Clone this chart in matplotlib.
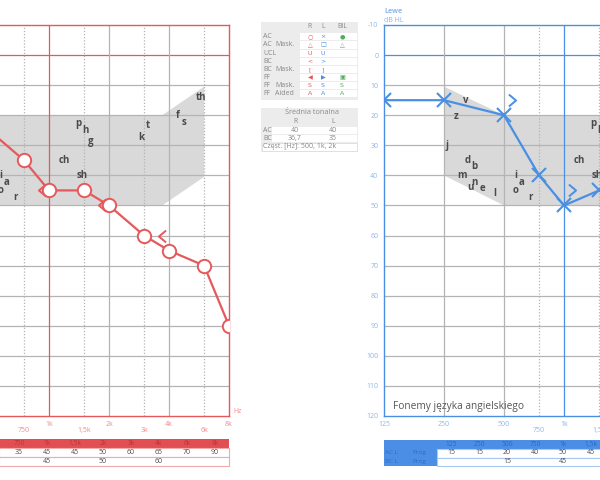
import matplotlib
matplotlib.use("Agg")
import matplotlib.pyplot as plt
from matplotlib.path import Path
from matplotlib.patches import Polygon, Rectangle
from matplotlib.transforms import offset_copy

plt.rcParams['font.family'] = ['Open Sans', 'DejaVu Sans']
plt.rcParams['axes.unicode_minus'] = False

RED = '#e5595c'
RED_LT = '#ee8f8f'
RED_HDR = '#e24f52'
BLUE = '#4a8fe2'
BLUE_LT = '#8db6ee'
BLUE_HDR = '#4a8ee6'
GREEN = '#4cae5a'
GRID = '#b4b4b4'
TXT = '#4a4a4a'

# ---- data ----
# right ear (red chart)
freqs_r = [500, 750, 1000, 1500, 2000, 3000, 4000, 6000, 8000]
ac_r = [25, 35, 45, 45, 50, 60, 65, 70, 90]
bc_r_freqs = [500, 1000, 2000, 4000]
bc_r = [15, 45, 50, 60]

# left ear (blue chart)
freqs_l = [125, 250, 500, 750, 1000, 1500, 2000]
ac_l = [15, 15, 20, 40, 50, 45, 50]
bc_l_freqs = [500, 1000, 2000]
bc_l = [15, 45, 45]

# speech banana
banana_f = [250, 500, 3700, 6000, 6000, 3700, 500, 250]
banana_db = [10.5, 20, 20, 10.5, 40.5, 50, 50, 40]

phonemes = ['th', 'f', 's', 'p', 'h', 'g', 't', 'k', 'ch', 'sh', 'i', 'a', 'o', 'r',
            'v', 'z', 'j', 'd', 'b', 'm', 'n', 'u', 'e', 'l']
phon_f = [5800, 4420, 4740, 1410, 1520, 1620, 3140, 2920, 1190, 1460, 575, 615, 570, 680,
          322, 287, 258, 330, 354, 307, 354, 341, 392, 451]
phon_db = [14, 20, 22.5, 22.8, 25.2, 28.6, 23.4, 27.3, 35, 40, 40, 42.4, 45.1, 47.3,
           15.2, 20.3, 30, 35, 37, 40.2, 42.2, 44.1, 44.3, 45.9]

db_ticks = list(range(-10, 121, 10))
octave_f = [125, 250, 500, 1000, 2000, 4000, 8000]
octave_lbl = ['125', '250', '500', '1k', '2k', '4k', '8k']
inter_f = [750, 1500, 3000, 6000]
inter_lbl = ['750', '1,5k', '3k', '6k']

# table columns
tab_r_cols = [750, 1000, 1500, 2000, 3000, 4000, 6000, 8000]
tab_l_cols = [125, 250, 500, 750, 1000, 1500]


def flabel(f):
    if f < 1000:
        return str(f)
    k = f / 1000
    return (str(int(k)) if k == int(k) else str(k).replace('.', ',')) + 'k'


def chevron(direction):
    s = 1 if direction == '<' else -1
    return Path([(0.3 * s, 0.5), (-0.3 * s, 0), (0.3 * s, -0.5)],
                [Path.MOVETO, Path.LINETO, Path.LINETO])


fig = plt.figure(figsize=(6, 4.8), dpi=100)
W, H = 600, 480


def make_audiogram(left_px, color, lblcolor):
    ax = fig.add_axes([left_px / W, 64 / H, 360 / W, 391 / H])
    ax.set_xscale('log', base=2)
    ax.set_xlim(125, 8000)
    ax.set_ylim(120, -10)
    ax.set_xticks([])
    ax.set_xticks([], minor=True)
    ax.set_yticks(db_ticks)
    ax.tick_params(axis='y', length=0, pad=4, labelsize=5, labelcolor=lblcolor)
    for sp in ax.spines.values():
        sp.set_color(color)
        sp.set_linewidth(1.0)
    for d in db_ticks[1:-1]:
        ax.axhline(d, color=color if d == 0 else GRID, lw=0.9, zorder=1)
    for f in octave_f[1:-1]:
        ax.axvline(f, color=color if f == 1000 else GRID, lw=0.9, zorder=1)
    for f in inter_f:
        ax.axvline(f, color=GRID, lw=0.9, ls=(0, (1, 1.5)), zorder=1)
    ax.add_patch(Polygon(list(zip(banana_f, banana_db)), closed=True,
                         facecolor='#d9d9d9', edgecolor='none', zorder=0.5))
    for p, f, d in zip(phonemes, phon_f, phon_db):
        ax.text(f, d, p, fontsize=7, fontweight='bold', color=TXT,
                ha='center', va='center', zorder=2, clip_on=True)
    for f, l in zip(octave_f, octave_lbl):
        ax.annotate(l, (f, 0), xycoords=('data', 'axes fraction'), xytext=(0, -6),
                    textcoords='offset points', ha='center', va='center',
                    fontsize=5, color=lblcolor, annotation_clip=False)
    for f, l in zip(inter_f, inter_lbl):
        ax.annotate(l, (f, 0), xycoords=('data', 'axes fraction'), xytext=(0, -10.5),
                    textcoords='offset points', ha='center', va='center',
                    fontsize=5, color=lblcolor, annotation_clip=False)
    return ax


# right ear chart (mostly cut off on the left)
axr = make_audiogram(-131, RED, RED_LT)
axr.set_yticklabels([])
axr.plot(freqs_r, ac_r, color=RED, lw=1.6, marker='o', ms=9.6, mfc='white',
         mec=RED, mew=1.4, zorder=4)
axr.plot(bc_r_freqs, bc_r, ls='none', marker=chevron('<'), ms=8.6, mfc='none',
         mec=RED, mew=1.4, zorder=5,
         transform=offset_copy(axr.transData, fig=fig, x=-7, y=0, units='dots'))
axr.annotate('Hz', (1, 0), xycoords='axes fraction', xytext=(6, 3),
             textcoords='offset points', ha='center', va='center',
             fontsize=5, color=RED_LT, annotation_clip=False)

# left ear chart
axl = make_audiogram(384, BLUE, BLUE_LT)
axl.plot(freqs_l, ac_l, color=BLUE, lw=1.6, marker='x', ms=10, mec=BLUE,
         mew=1.5, zorder=4)
axl.plot(bc_l_freqs, bc_l, ls='none', marker=chevron('>'), ms=8.6, mfc='none',
         mec=BLUE, mew=1.4, zorder=5,
         transform=offset_copy(axl.transData, fig=fig, x=8, y=0, units='dots'))
axl.annotate('Lewe', (0, 1), xycoords='axes fraction', xytext=(0, 9.5),
             textcoords='offset points', ha='left', va='center',
             fontsize=5, color=BLUE_LT, fontweight='bold', annotation_clip=False)
axl.annotate('dB HL', (0, 1), xycoords='axes fraction', xytext=(0, 3),
             textcoords='offset points', ha='left', va='center',
             fontsize=5, color=BLUE_LT, annotation_clip=False)
axl.annotate('Fonemy języka angielskiego', (0, 0), xycoords='axes fraction',
             xytext=(6.5, 6.5), textcoords='offset points', ha='left', va='center',
             fontsize=7.3, color='#555555')

# ---- overlay for tables ----
ov = fig.add_axes([0, 0, 1, 1], zorder=10)
ov.set_xlim(0, W)
ov.set_ylim(H, 0)
ov.axis('off')
ov.patch.set_alpha(0)

# threshold table, right ear
ac_r_map = dict(zip(freqs_r, ac_r))
bc_r_map = dict(zip(bc_r_freqs, bc_r))
x0, cw = 5, 28
ov.add_patch(Rectangle((0, 439), 229, 9, facecolor=RED_HDR, edgecolor='none'))
for i, f in enumerate(tab_r_cols):
    cx = x0 + cw * i + cw / 2
    ov.text(cx, 443.5, flabel(f), fontsize=4.8, color='#b83539', ha='center', va='center')
    ov.text(cx, 452.5, str(ac_r_map.get(f, '')), fontsize=5, color=TXT, ha='center', va='center')
    ov.text(cx, 461.5, str(bc_r_map.get(f, '')), fontsize=5, color=TXT, ha='center', va='center')
for yy in (448, 457):
    ov.add_patch(Rectangle((-1, yy), 230, 9, facecolor='white', edgecolor='#f2a9a9', lw=0.8))

# threshold table, left ear
ac_l_map = dict(zip(freqs_l, ac_l))
bc_l_map = dict(zip(bc_l_freqs, bc_l))
ov.add_patch(Rectangle((384, 440), 230, 9, facecolor=BLUE_HDR, edgecolor='none'))
ov.add_patch(Rectangle((384, 449), 53, 17, facecolor=BLUE_HDR, edgecolor='none'))
for yy in (449, 457.5):
    ov.add_patch(Rectangle((437, yy), 170, 8.5, facecolor='white', edgecolor='#a9c8f1', lw=0.8))
ov.text(385, 452.5, 'AC L', fontsize=4.6, color='#2f6dc4', ha='left', va='center')
ov.text(412, 452.5, 'Próg', fontsize=4.6, color='#2f6dc4', ha='left', va='center')
ov.text(385, 461.5, 'BC L', fontsize=4.6, color='#2f6dc4', ha='left', va='center')
ov.text(412, 461.5, 'Próg', fontsize=4.6, color='#2f6dc4', ha='left', va='center')
for i, f in enumerate(tab_l_cols):
    cx = 451 + 28 * i
    ov.text(cx, 444.5, flabel(f), fontsize=4.8, color='#2c68c0', ha='center', va='center')
    ov.text(cx, 452.5, str(ac_l_map.get(f, '')), fontsize=5, color=TXT, ha='center', va='center')
    ov.text(cx, 461.5, str(bc_l_map.get(f, '')), fontsize=5, color=TXT, ha='center', va='center')

# symbol legend
leg_rows = ['AC', 'AC', 'UCL', 'BC', 'BC', 'FF', 'FF', 'FF']
leg_sub = ['', 'Mask.', '', '', 'Mask.', '', 'Mask.', 'Aided']
leg_R = ['○', '△', 'U', '<', '[', '◀', 'S', 'A']
leg_L = ['×', '□', 'U', '>', ']', '▶', 'S', 'A']
leg_BIL = ['●', '△', '', '', '', '▣', 'S', 'A']
bil_col = [GREEN, '#888888', GREEN, GREEN, GREEN, GREEN, GREEN, GREEN]
LG = '#888888'
ov.add_patch(Rectangle((261, 22), 97, 78, facecolor='#ececec', edgecolor='none'))
ov.text(310, 27, 'R', fontsize=5, color=LG, ha='center', va='center')
ov.text(323, 27, 'L', fontsize=5, color=LG, ha='center', va='center')
ov.text(342, 27, 'BIL', fontsize=5, color=LG, ha='center', va='center')
for i in range(len(leg_rows)):
    y = 36.8 + 8.15 * i
    ov.add_patch(Rectangle((300, y - 3.6), 57, 7.2, facecolor='white', edgecolor='none'))
    ov.text(263, y, leg_rows[i], fontsize=5, color=LG, ha='left', va='center')
    ov.text(275, y, leg_sub[i], fontsize=5, color=LG, ha='left', va='center')
    ov.text(310, y, leg_R[i], fontsize=4.5, color=RED, ha='center', va='center',
            family=['DejaVu Sans'])
    ov.text(323, y, leg_L[i], fontsize=4.5, color=BLUE, ha='center', va='center',
            family=['DejaVu Sans'])
    ov.text(342, y, leg_BIL[i], fontsize=4.5, color=bil_col[i], ha='center', va='center',
            family=['DejaVu Sans'])


# pure tone averages
def pta(fs, vals):
    m = dict(zip(fs, vals))
    v = sum(m[f] for f in (500, 1000, 2000)) / 3
    return str(int(round(v))) if abs(v - round(v)) < 0.05 else f'{v:.1f}'.replace('.', ',')


ov.add_patch(Rectangle((261, 108), 97, 44, facecolor='#ececec', edgecolor='none'))
ov.add_patch(Rectangle((272, 126.5), 85, 7.5, facecolor='white', edgecolor='none'))
ov.add_patch(Rectangle((272, 134.5), 85, 7.5, facecolor='white', edgecolor='none'))
ov.add_patch(Rectangle((262, 143), 95, 8, facecolor='white', edgecolor='#dddddd', lw=0.6))
ov.text(312, 113, 'Średnia tonalna', fontsize=5.2, color=LG, ha='center', va='center')
ov.text(295, 121.5, 'R', fontsize=5, color=LG, ha='center', va='center')
ov.text(333, 121.5, 'L', fontsize=5, color=LG, ha='center', va='center')
ov.text(263, 130, 'AC', fontsize=5, color=LG, ha='left', va='center')
ov.text(263, 138.5, 'BC', fontsize=5, color=LG, ha='left', va='center')
ov.text(295, 130, pta(freqs_r, ac_r), fontsize=5, color=LG, ha='center', va='center')
ov.text(333, 130, pta(freqs_l, ac_l), fontsize=5, color=LG, ha='center', va='center')
ov.text(295, 138.5, pta(bc_r_freqs, bc_r), fontsize=5, color=LG, ha='center', va='center')
ov.text(333, 138.5, pta(bc_l_freqs, bc_l), fontsize=5, color=LG, ha='center', va='center')
ov.text(263, 147, 'Częst. [Hz]: 500, 1k, 2k', fontsize=5, color=LG, ha='left', va='center')

fig.savefig('out.png', dpi=100)
